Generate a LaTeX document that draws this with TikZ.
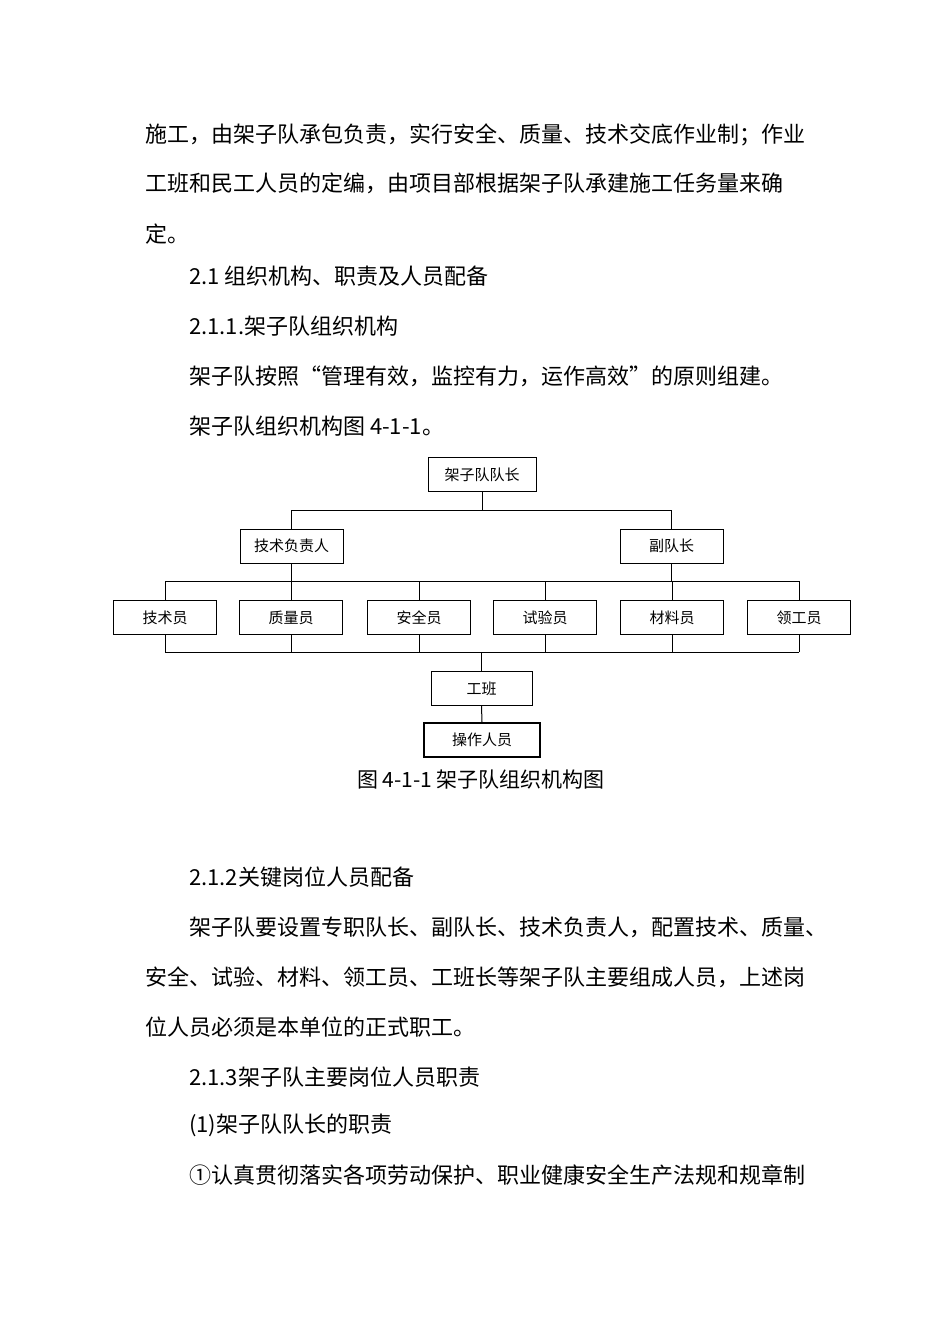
\documentclass[tikz,border=0pt]{standalone}
\usepackage{fontspec}
\setmainfont{Noto Sans CJK SC}
\begin{document}
\begin{tikzpicture}[x=1pt,y=-1pt,
  txt/.style={anchor=west,inner sep=0pt,font=\fontsize{22}{24}\selectfont},
  box/.style={draw,line width=1pt,inner sep=0pt,minimum height=34pt,font=\fontsize{15}{17}\selectfont},
  ln/.style={line width=1pt}]
\useasboundingbox (0,0) rectangle (950,1344);
\fill[white] (0,0) rectangle (950,1344);
\node[txt] (t1) at (145,135) {施工，由架子队承包负责，实行安全、质量、技术交底作业制；作业};
\node[txt] (t2) at (145,183) {工班和民工人员的定编，由项目部根据架子队承建施工任务量来确};
\node[txt] (t3) at (145,234) {定。};
\node[txt] (t4) at (189,276) {2.1 组织机构、职责及人员配备};
\node[txt] (t5) at (189,326) {2.1.1.架子队组织机构};
\node[txt] (t6) at (189,376) {架子队按照“管理有效，监控有力，运作高效”的原则组建。};
\node[txt] (t7) at (189,426) {架子队组织机构图 4-1-1。};
\node[txt] (t8) at (189,877) {2.1.2关键岗位人员配备};
\node[txt] (t9) at (189,927) {架子队要设置专职队长、副队长、技术负责人，配置技术、质量、};
\node[txt] (t10) at (145,977) {安全、试验、材料、领工员、工班长等架子队主要组成人员，上述岗};
\node[txt] (t11) at (145,1027) {位人员必须是本单位的正式职工。};
\node[txt] (t12) at (189,1077) {2.1.3架子队主要岗位人员职责};
\node[txt] (t13) at (189,1125) {(1)架子队队长的职责};
\node[txt] (t14) at (189,1175) {①认真贯彻落实各项劳动保护、职业健康安全生产法规和规章制};
% chart
\node[box,minimum width=108pt] (top) at (482,474.5) {架子队队长};
\node[box,minimum width=103pt] (tech) at (291.5,546) {技术负责人};
\node[box,minimum width=103pt] (vice) at (671.5,546) {副队长};
\foreach \n/\x/\t in {a/165/技术员,b/291/质量员,c/419/安全员,d/545/试验员,e/672/材料员,f/799/领工员}
  \node[box,minimum width=103pt] (\n) at (\x,617.5) {\t};
\node[box,minimum width=101pt] (gb) at (481.5,688.5) {工班};
\node[box,minimum width=116pt,line width=1.8pt] (cz) at (482,740) {操作人员};
\coordinate (h1) at (482,510);
\coordinate (h1l) at (291.5,510);
\coordinate (h1r) at (671.5,510);
\draw[ln] (top.south) -- (h1);
\draw[ln] (h1l) -- (h1r);
\draw[ln] (h1l) -- (tech.north);
\draw[ln] (h1r) -- (vice.north);
\coordinate (h2l) at (165,581);
\coordinate (h2r) at (799,581);
\draw[ln] (h2l) -- (h2r);
\draw[ln] (tech.south) -- (291.5,581);
\draw[ln] (vice.south) -- (671.5,581);
\coordinate (h3l) at (165,652);
\coordinate (h3r) at (799,652);
\draw[ln] (h3l) -- (h3r);
\foreach \n in {a,b,c,d,e,f} {
  \draw[ln] (\n.north) -- (\n.north |- h2l);
  \draw[ln] (\n.south) -- (\n.south |- h3l);
}
\draw[ln] (gb.north |- h3l) -- (gb.north);
\draw[ln] (gb.south) -- (cz.north);
\node[inner sep=0pt,font=\fontsize{21}{23}\selectfont] (cap) at (481,780) {图 4-1-1 架子队组织机构图};
\end{tikzpicture}
\end{document}
